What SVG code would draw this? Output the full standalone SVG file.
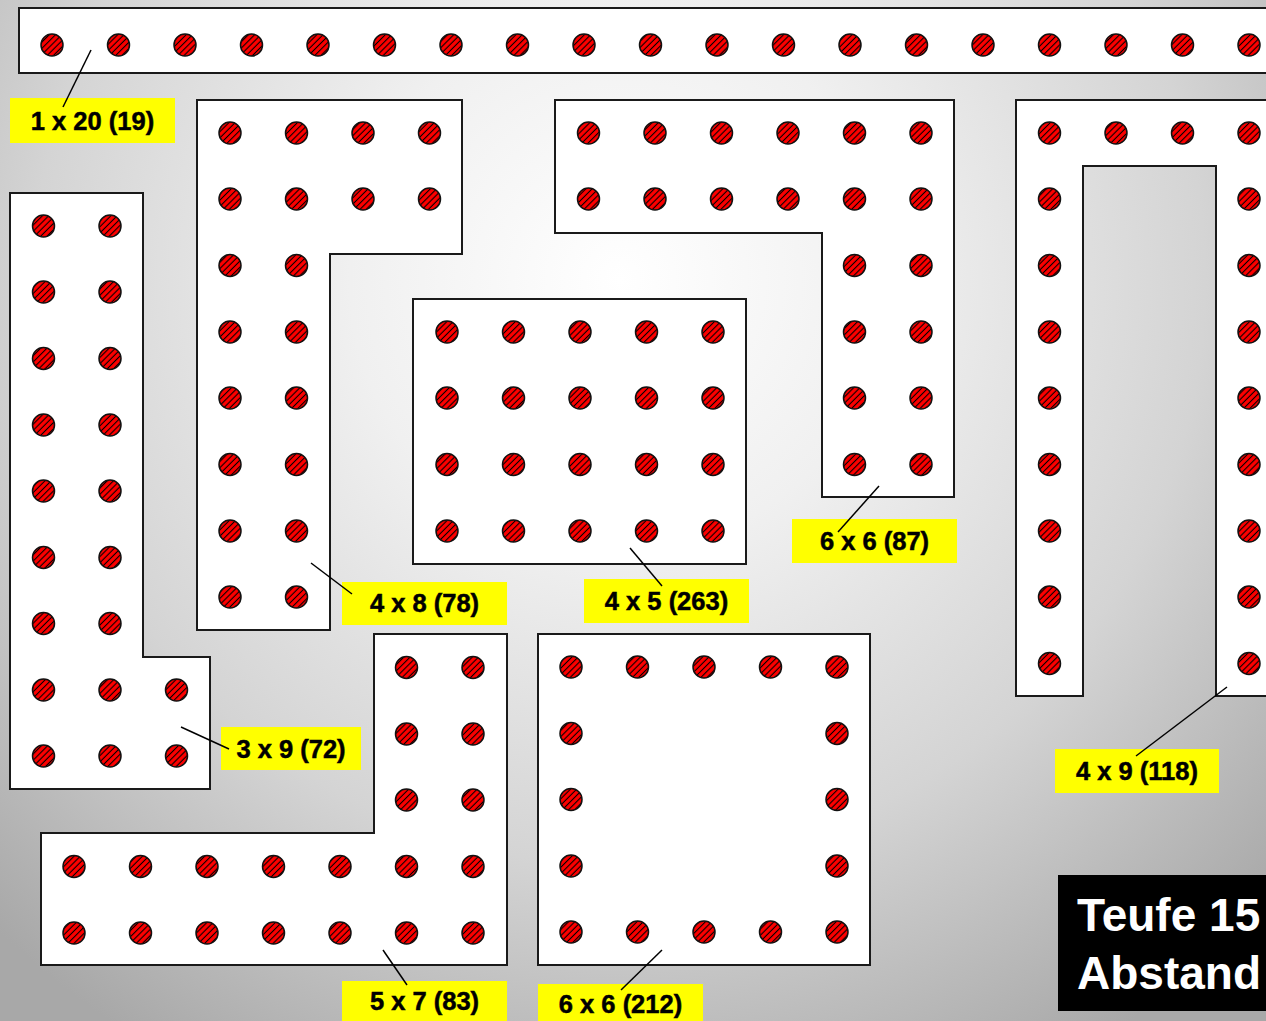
<svg xmlns="http://www.w3.org/2000/svg" width="1266" height="1021" viewBox="0 0 1266 1021">
<defs>
<radialGradient id="bg" cx="620" cy="280" r="900" gradientUnits="userSpaceOnUse">
<stop offset="0" stop-color="#ffffff"/>
<stop offset="0.3" stop-color="#f0f0f0"/>
<stop offset="0.65" stop-color="#d4d4d4"/>
<stop offset="1" stop-color="#a8a8a8"/>
</radialGradient>
<pattern id="h" width="4.4" height="4.4" patternUnits="userSpaceOnUse" patternTransform="rotate(45)">
<rect width="4.4" height="4.4" fill="#ff0000"/>
<line x1="2.2" y1="0" x2="2.2" y2="4.4" stroke="#000" stroke-width="1.1"/>
</pattern>
</defs>
<style>
.s{fill:#fff;stroke:#1a1a1a;stroke-width:2}
.b{fill:url(#h);stroke:#111;stroke-width:1.5}
.lb{fill:#ffff00}
.t{font-family:"Liberation Sans",Arial,sans-serif;font-weight:bold;font-size:25.5px;fill:#000;stroke:#000;stroke-width:0.5;text-anchor:middle}
.c{stroke:#000;stroke-width:1.5;fill:none}
.w{font-family:"Liberation Sans",Arial,sans-serif;font-weight:bold;font-size:46px;fill:#fff}
</style>
<rect width="1266" height="1021" fill="url(#bg)"/>

<g id="n1x20">
<rect class="s" x="19" y="8" width="1260" height="65"/>
<g>
<circle class="b" cx="52" cy="45" r="11"/><circle class="b" cx="118.5" cy="45" r="11"/><circle class="b" cx="185" cy="45" r="11"/><circle class="b" cx="251.5" cy="45" r="11"/><circle class="b" cx="318" cy="45" r="11"/><circle class="b" cx="384.5" cy="45" r="11"/><circle class="b" cx="451" cy="45" r="11"/><circle class="b" cx="517.5" cy="45" r="11"/><circle class="b" cx="584" cy="45" r="11"/><circle class="b" cx="650.5" cy="45" r="11"/><circle class="b" cx="717" cy="45" r="11"/><circle class="b" cx="783.5" cy="45" r="11"/><circle class="b" cx="850" cy="45" r="11"/><circle class="b" cx="916.5" cy="45" r="11"/><circle class="b" cx="983" cy="45" r="11"/><circle class="b" cx="1049.5" cy="45" r="11"/><circle class="b" cx="1116" cy="45" r="11"/><circle class="b" cx="1182.5" cy="45" r="11"/><circle class="b" cx="1249" cy="45" r="11"/>
</g>
<rect class="lb" x="10" y="98" width="165" height="45"/>
<text class="t" x="92.5" y="130">1 x 20 (19)</text>
</g>

<g id="n4x8">
<polygon class="s" points="197,100 462,100 462,254 330,254 330,630 197,630"/>
<circle class="b" cx="230" cy="133" r="11"/><circle class="b" cx="296.5" cy="133" r="11"/><circle class="b" cx="363" cy="133" r="11"/><circle class="b" cx="429.5" cy="133" r="11"/>
<circle class="b" cx="230" cy="199" r="11"/><circle class="b" cx="296.5" cy="199" r="11"/><circle class="b" cx="363" cy="199" r="11"/><circle class="b" cx="429.5" cy="199" r="11"/>
<circle class="b" cx="230" cy="265.5" r="11"/><circle class="b" cx="296.5" cy="265.5" r="11"/>
<circle class="b" cx="230" cy="332" r="11"/><circle class="b" cx="296.5" cy="332" r="11"/>
<circle class="b" cx="230" cy="398" r="11"/><circle class="b" cx="296.5" cy="398" r="11"/>
<circle class="b" cx="230" cy="464.5" r="11"/><circle class="b" cx="296.5" cy="464.5" r="11"/>
<circle class="b" cx="230" cy="531" r="11"/><circle class="b" cx="296.5" cy="531" r="11"/>
<circle class="b" cx="230" cy="597" r="11"/><circle class="b" cx="296.5" cy="597" r="11"/>
<rect class="lb" x="342" y="582" width="165" height="43"/>
<text class="t" x="424.5" y="612">4 x 8 (78)</text>
</g>

<g id="n3x9">
<polygon class="s" points="10,193 143,193 143,657 210,657 210,789 10,789"/>
<circle class="b" cx="43.5" cy="226" r="11"/><circle class="b" cx="110" cy="226" r="11"/>
<circle class="b" cx="43.5" cy="292" r="11"/><circle class="b" cx="110" cy="292" r="11"/>
<circle class="b" cx="43.5" cy="358.5" r="11"/><circle class="b" cx="110" cy="358.5" r="11"/>
<circle class="b" cx="43.5" cy="425" r="11"/><circle class="b" cx="110" cy="425" r="11"/>
<circle class="b" cx="43.5" cy="491" r="11"/><circle class="b" cx="110" cy="491" r="11"/>
<circle class="b" cx="43.5" cy="557.5" r="11"/><circle class="b" cx="110" cy="557.5" r="11"/>
<circle class="b" cx="43.5" cy="623.5" r="11"/><circle class="b" cx="110" cy="623.5" r="11"/>
<circle class="b" cx="43.5" cy="690" r="11"/><circle class="b" cx="110" cy="690" r="11"/><circle class="b" cx="176.5" cy="690" r="11"/>
<circle class="b" cx="43.5" cy="756" r="11"/><circle class="b" cx="110" cy="756" r="11"/><circle class="b" cx="176.5" cy="756" r="11"/>
<rect class="lb" x="221" y="727" width="140" height="43"/>
<text class="t" x="291" y="758">3 x 9 (72)</text>
</g>

<g id="n4x5">
<rect class="s" x="413" y="299" width="333" height="265"/>
<circle class="b" cx="447" cy="332" r="11"/><circle class="b" cx="513.5" cy="332" r="11"/><circle class="b" cx="580" cy="332" r="11"/><circle class="b" cx="646.5" cy="332" r="11"/><circle class="b" cx="713" cy="332" r="11"/>
<circle class="b" cx="447" cy="398" r="11"/><circle class="b" cx="513.5" cy="398" r="11"/><circle class="b" cx="580" cy="398" r="11"/><circle class="b" cx="646.5" cy="398" r="11"/><circle class="b" cx="713" cy="398" r="11"/>
<circle class="b" cx="447" cy="464.5" r="11"/><circle class="b" cx="513.5" cy="464.5" r="11"/><circle class="b" cx="580" cy="464.5" r="11"/><circle class="b" cx="646.5" cy="464.5" r="11"/><circle class="b" cx="713" cy="464.5" r="11"/>
<circle class="b" cx="447" cy="531" r="11"/><circle class="b" cx="513.5" cy="531" r="11"/><circle class="b" cx="580" cy="531" r="11"/><circle class="b" cx="646.5" cy="531" r="11"/><circle class="b" cx="713" cy="531" r="11"/>
<rect class="lb" x="584" y="579" width="165" height="44"/>
<text class="t" x="666.5" y="610">4 x 5 (263)</text>
</g>

<g id="n6x6a">
<polygon class="s" points="555,100 954,100 954,497 822,497 822,233 555,233"/>
<circle class="b" cx="588.5" cy="133" r="11"/><circle class="b" cx="655" cy="133" r="11"/><circle class="b" cx="721.5" cy="133" r="11"/><circle class="b" cx="788" cy="133" r="11"/><circle class="b" cx="854.5" cy="133" r="11"/><circle class="b" cx="921" cy="133" r="11"/>
<circle class="b" cx="588.5" cy="199" r="11"/><circle class="b" cx="655" cy="199" r="11"/><circle class="b" cx="721.5" cy="199" r="11"/><circle class="b" cx="788" cy="199" r="11"/><circle class="b" cx="854.5" cy="199" r="11"/><circle class="b" cx="921" cy="199" r="11"/>
<circle class="b" cx="854.5" cy="265.5" r="11"/><circle class="b" cx="921" cy="265.5" r="11"/>
<circle class="b" cx="854.5" cy="332" r="11"/><circle class="b" cx="921" cy="332" r="11"/>
<circle class="b" cx="854.5" cy="398" r="11"/><circle class="b" cx="921" cy="398" r="11"/>
<circle class="b" cx="854.5" cy="464.5" r="11"/><circle class="b" cx="921" cy="464.5" r="11"/>
<rect class="lb" x="792" y="519" width="165" height="44"/>
<text class="t" x="874.5" y="550">6 x 6 (87)</text>
</g>

<g id="n4x9">
<polygon class="s" points="1016,100 1280,100 1280,696 1216,696 1216,166 1083,166 1083,696 1016,696"/>
<circle class="b" cx="1049.5" cy="133" r="11"/><circle class="b" cx="1116" cy="133" r="11"/><circle class="b" cx="1182.5" cy="133" r="11"/><circle class="b" cx="1249" cy="133" r="11"/>
<circle class="b" cx="1049.5" cy="199" r="11"/><circle class="b" cx="1249" cy="199" r="11"/>
<circle class="b" cx="1049.5" cy="265.5" r="11"/><circle class="b" cx="1249" cy="265.5" r="11"/>
<circle class="b" cx="1049.5" cy="332" r="11"/><circle class="b" cx="1249" cy="332" r="11"/>
<circle class="b" cx="1049.5" cy="398" r="11"/><circle class="b" cx="1249" cy="398" r="11"/>
<circle class="b" cx="1049.5" cy="464.5" r="11"/><circle class="b" cx="1249" cy="464.5" r="11"/>
<circle class="b" cx="1049.5" cy="531" r="11"/><circle class="b" cx="1249" cy="531" r="11"/>
<circle class="b" cx="1049.5" cy="597" r="11"/><circle class="b" cx="1249" cy="597" r="11"/>
<circle class="b" cx="1049.5" cy="663.5" r="11"/><circle class="b" cx="1249" cy="663.5" r="11"/>
<rect class="lb" x="1055" y="749" width="164" height="44"/>
<text class="t" x="1137" y="780">4 x 9 (118)</text>
</g>

<g id="n5x7">
<polygon class="s" points="374,634 507,634 507,965 41,965 41,833 374,833"/>
<circle class="b" cx="406.5" cy="667.5" r="11"/><circle class="b" cx="473" cy="667.5" r="11"/>
<circle class="b" cx="406.5" cy="734" r="11"/><circle class="b" cx="473" cy="734" r="11"/>
<circle class="b" cx="406.5" cy="800" r="11"/><circle class="b" cx="473" cy="800" r="11"/>
<circle class="b" cx="74" cy="866.5" r="11"/><circle class="b" cx="140.5" cy="866.5" r="11"/><circle class="b" cx="207" cy="866.5" r="11"/><circle class="b" cx="273.5" cy="866.5" r="11"/><circle class="b" cx="340" cy="866.5" r="11"/><circle class="b" cx="406.5" cy="866.5" r="11"/><circle class="b" cx="473" cy="866.5" r="11"/>
<circle class="b" cx="74" cy="933" r="11"/><circle class="b" cx="140.5" cy="933" r="11"/><circle class="b" cx="207" cy="933" r="11"/><circle class="b" cx="273.5" cy="933" r="11"/><circle class="b" cx="340" cy="933" r="11"/><circle class="b" cx="406.5" cy="933" r="11"/><circle class="b" cx="473" cy="933" r="11"/>
<rect class="lb" x="342" y="981" width="165" height="44"/>
<text class="t" x="424.5" y="1010">5 x 7 (83)</text>
</g>

<g id="n6x6b">
<rect class="s" x="538" y="634" width="332" height="331"/>
<circle class="b" cx="571" cy="667" r="11"/><circle class="b" cx="637.5" cy="667" r="11"/><circle class="b" cx="704" cy="667" r="11"/><circle class="b" cx="770.5" cy="667" r="11"/><circle class="b" cx="837" cy="667" r="11"/>
<circle class="b" cx="571" cy="733.5" r="11"/><circle class="b" cx="837" cy="733.5" r="11"/>
<circle class="b" cx="571" cy="799.5" r="11"/><circle class="b" cx="837" cy="799.5" r="11"/>
<circle class="b" cx="571" cy="866" r="11"/><circle class="b" cx="837" cy="866" r="11"/>
<circle class="b" cx="571" cy="932" r="11"/><circle class="b" cx="637.5" cy="932" r="11"/><circle class="b" cx="704" cy="932" r="11"/><circle class="b" cx="770.5" cy="932" r="11"/><circle class="b" cx="837" cy="932" r="11"/>
<rect class="lb" x="538" y="984" width="165" height="42"/>
<text class="t" x="620.5" y="1013">6 x 6 (212)</text>
</g>

<g id="info">
<rect x="1058" y="875" width="220" height="136" fill="#000"/>
<text class="w" x="1077" y="931">Teufe 15</text>
<text class="w" x="1077" y="989">Abstand</text>
</g>

<g id="connectors">
<line class="c" x1="91" y1="50" x2="63" y2="107"/>
<line class="c" x1="311" y1="563" x2="352" y2="594"/>
<line class="c" x1="181" y1="727" x2="229" y2="749"/>
<line class="c" x1="630" y1="548" x2="662" y2="586"/>
<line class="c" x1="879" y1="486" x2="838" y2="532"/>
<line class="c" x1="1227" y1="687" x2="1136" y2="756"/>
<line class="c" x1="383" y1="950" x2="407" y2="985"/>
<line class="c" x1="662" y1="950" x2="621" y2="990"/>
</g>
</svg>
